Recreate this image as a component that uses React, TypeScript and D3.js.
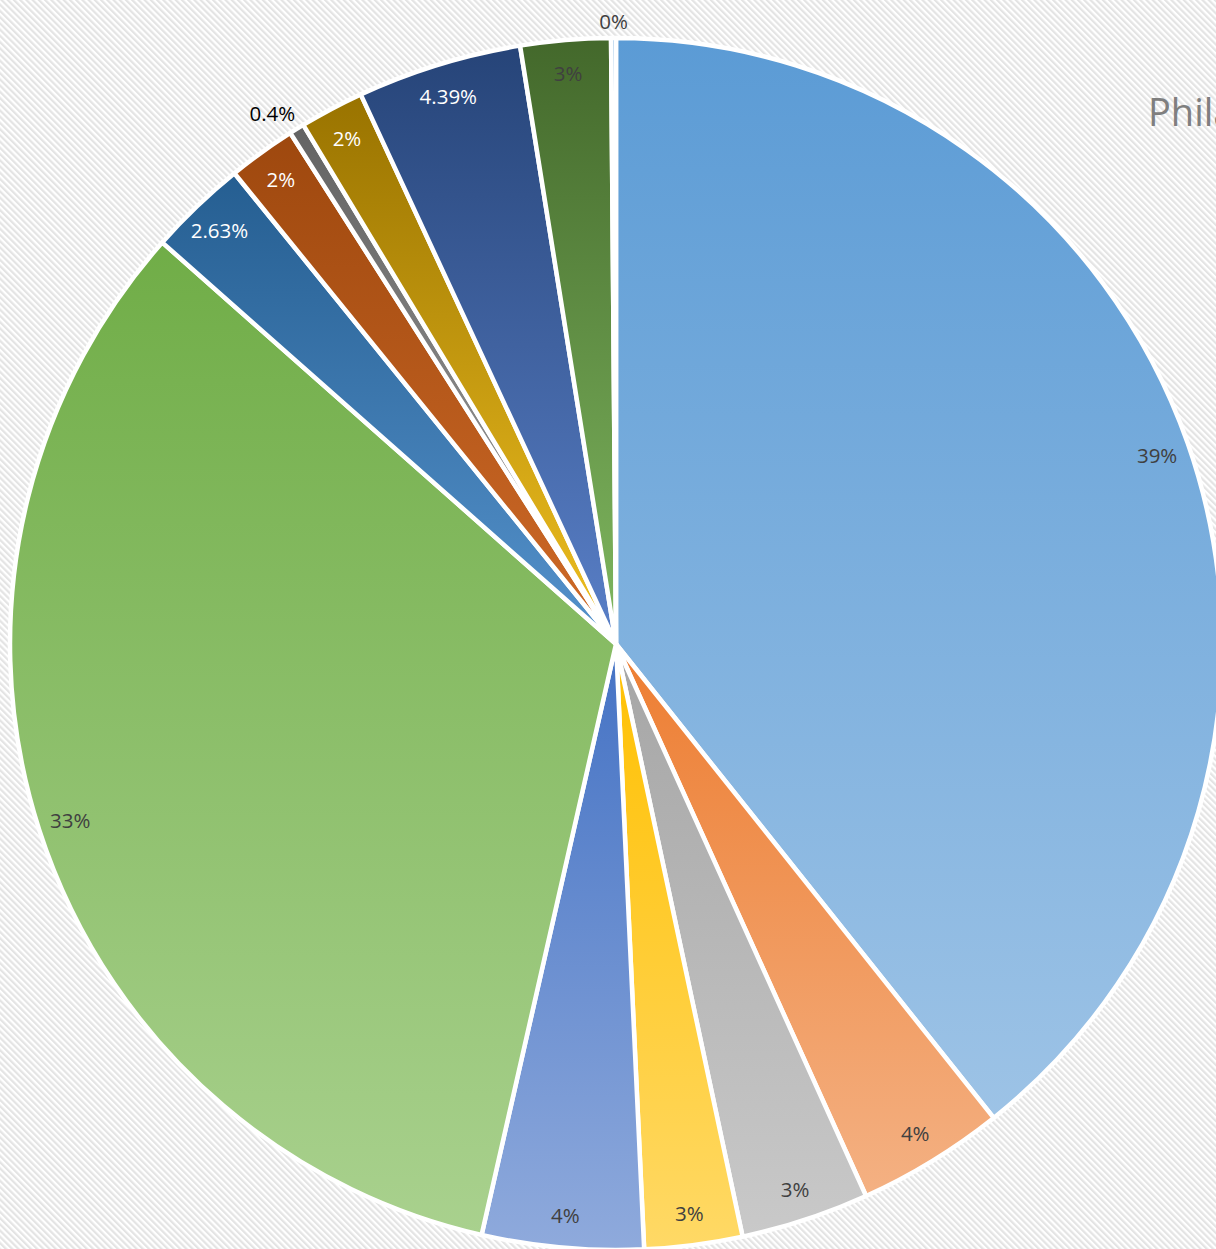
import React from "react";
import * as d3 from "d3";

const categories = [
  "A", "B", "C", "D", "E", "F", "G", "H", "I", "J", "K", "L", "M",
];
const values = [
  39.29, 3.94, 3.42, 2.61, 4.3, 32.97, 2.63, 1.81, 0.4, 1.71, 4.39, 2.4, 0.13,
];
const labels = [
  "39%", "4%", "3%", "3%", "4%", "33%", "2.63%", "2%", "0.4%", "2%", "4.39%", "3%", "0%",
];
const topColors = [
  "#5b9bd5", "#ed7d31", "#a5a5a5", "#ffc000", "#4472c4", "#70ad47",
  "#255e91", "#9e480e", "#636363", "#997300", "#264478", "#43682b", "#7cafdd",
];
const bottomColors = [
  "#9dc3e6", "#f4b183", "#c9c9c9", "#ffd966", "#8faadc", "#a9d18e",
  "#5592cc", "#cf6a28", "#a0a0a0", "#f0c020", "#5a80c8", "#80b860", "#a9cbea",
];
const labelColors = [
  "#404040", "#404040", "#404040", "#404040", "#404040", "#404040",
  "#ffffff", "#ffffff", "#000000", "#ffffff", "#ffffff", "#404040", "#404040",
];
const outside = [
  false, false, false, false, false, false, false, false, true, false, false, false, true,
];
const title = "Philadelphia";

const W = 1216;
const H = 1249;
const cx = 616;
const cy = 644;
const R = 606;
const FS = 20.5;

export default function App() {
  const pie = d3
    .pie<number>()
    .value((d) => d)
    .sort(null)
    .startAngle(0)
    .endAngle(2 * Math.PI);
  const arcs = pie(values);
  const arc = d3.arc<d3.PieArcDatum<number>>().innerRadius(0).outerRadius(R);
  const inLabel = d3
    .arc<d3.PieArcDatum<number>>()
    .innerRadius(R * 0.946)
    .outerRadius(R * 0.946);

  const labelPos = (a: d3.PieArcDatum<number>, i: number): [number, number] => {
    if (!outside[i]) return inLabel.centroid(a) as [number, number];
    const ang = (a.startAngle + a.endAngle) / 2;
    const s = Math.sin(ang);
    const c = Math.cos(ang);
    const rr = R + 6;
    const w = labels[i].length * FS * 0.52;
    const h = FS * 1.1;
    const dx = Math.abs(s) < 0.1 ? 0 : Math.sign(s) * w / 2;
    const dy = Math.abs(c) < 0.1 ? 0 : -Math.sign(c) * h / 2;
    return [rr * s + dx, -rr * c + dy];
  };

  return (
    <svg
      width={W}
      height={H}
      style={{ position: "absolute", left: 0, top: 0, display: "block" }}
    >
      <defs>
        <pattern
          id="bgstripes"
          width={4.4}
          height={4.4}
          patternUnits="userSpaceOnUse"
          patternTransform="rotate(-45)"
        >
          <rect width={4.4} height={4.4} fill="#ffffff" />
          <rect width={2.2} height={4.4} fill="#e4e4e4" />
        </pattern>
        {categories.map((c, i) => (
          <linearGradient key={c} id={`g${i}`} x1="0" y1="0" x2="0" y2="1">
            <stop offset="0" stopColor={topColors[i]} />
            <stop offset="1" stopColor={bottomColors[i]} />
          </linearGradient>
        ))}
      </defs>
      <rect width={W} height={H} fill="url(#bgstripes)" />
      <g transform={`translate(${cx},${cy})`}>
        {arcs.map((a, i) => (
          <path
            key={categories[i]}
            d={arc(a) || ""}
            fill={`url(#g${i})`}
            stroke="#ffffff"
            strokeWidth={4.5}
            strokeLinejoin="round"
          />
        ))}
        {arcs.map((a, i) => {
          const [x, y] = labelPos(a, i);
          return (
            <text
              key={`l${i}`}
              x={x}
              y={y}
              textAnchor="middle"
              dominantBaseline="central"
              fontFamily="'Open Sans', sans-serif"
              fontSize={FS}
              fill={labelColors[i]}
            >
              {labels[i]}
            </text>
          );
        })}
      </g>
      <text
        x={1148}
        y={126}
        fontFamily="'Open Sans', sans-serif"
        fontSize={38}
        fill="#7f7f7f"
      >
        {title}
      </text>
    </svg>
  );
}
